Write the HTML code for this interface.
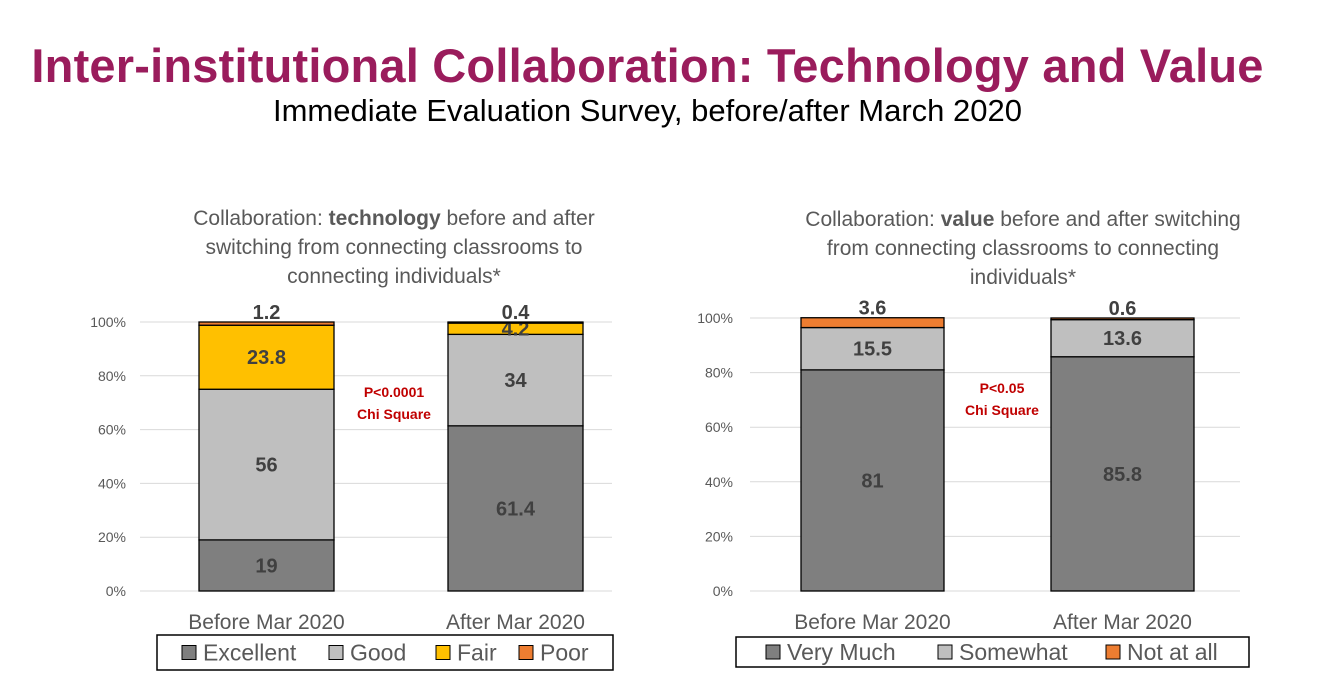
<!DOCTYPE html>
<html><head><meta charset="utf-8"><style>
body{margin:0;width:1327px;height:682px;background:#fff;overflow:hidden;font-family:"Liberation Sans",sans-serif;}
.t{position:absolute;left:0;width:1295px;text-align:center;white-space:nowrap;}
</style></head><body>
<div class="t" style="top:38px;font-size:47px;font-weight:bold;color:#9a1c5c;letter-spacing:0.2px;">Inter-institutional Collaboration: Technology and Value</div>
<div class="t" style="top:93px;font-size:31px;color:#000;">Immediate Evaluation Survey, before/after March 2020</div>
<svg id="svg" width="1327" height="682" style="position:absolute;left:0;top:0"></svg>
<script>
const cats=["Before Mar 2020","After Mar 2020"];
const techSeries=["Excellent","Good","Fair","Poor"];
const techExcellent=[19,61.4];
const techGood=[56,34];
const techFair=[23.8,4.2];
const techPoor=[1.2,0.4];
const valSeries=["Very Much","Somewhat","Not at all"];
const valVeryMuch=[81,85.8];
const valSomewhat=[15.5,13.6];
const valNotAtAll=[3.6,0.6];
const ticks=["0%","20%","40%","60%","80%","100%"];
const NS="http://www.w3.org/2000/svg";
const svg=document.getElementById('svg');
function mk(t,a,txt){const e=document.createElementNS(NS,t);for(const k in a)e.setAttribute(k,a[k]);if(txt!=null)e.textContent=txt;svg.appendChild(e);return e;}
function chart(cfg){
 const y=v=>cfg.y0-(cfg.y0-cfg.y100)*v/100;
 ticks.forEach((t,i)=>{const v=i*20;
  const g=mk('line',{x1:cfg.gx0,x2:cfg.gx1,y1:y(v),y2:y(v),stroke:'#d9d9d9','stroke-width':1});
  
  
  const l=mk('text',{x:cfg.lx,y:y(v)+5,'text-anchor':'end','font-size':14,fill:'#595959'},t);
  
  
 });
 cats.forEach((c,ci)=>{
  let acc=0;const x=cfg.bx[ci],w=cfg.bw;
  cfg.series.forEach((s,si)=>{
   const v=cfg.data[si][ci];const yt=y(acc+v),yb=y(acc);
   const r=mk('rect',{x:x,y:yt,width:w,height:yb-yt,fill:cfg.colors[si],stroke:'#000','stroke-width':1.3});
   
   
   const last=si==cfg.series.length-1;
   const ly=last?yt-3:(yt+yb)/2+7;
   const tl=mk('text',{x:x+w/2,y:ly,'text-anchor':'middle','font-size':20,'font-weight':'bold',fill:'#404040'},String(v));
   
   
   acc+=v;
  });
  const xl=mk('text',{x:x+w/2,y:cfg.y0+38,'text-anchor':'middle','font-size':21,fill:'#595959'},c);
  
  
 });
 cfg.title.forEach((ln,i)=>{
  const t=mk('text',{x:cfg.tx,y:cfg.ty+i*29,'text-anchor':'middle','font-size':21,fill:'#595959'});
  
  
  ln.forEach(p=>{const s=document.createElementNS(NS,'tspan');s.textContent=p[0];if(p[1])s.setAttribute('font-weight','bold');t.appendChild(s);});
 });
 cfg.ann.forEach((a,i)=>{const t=mk('text',{x:cfg.ax,y:cfg.ay+i*22,'text-anchor':'middle','font-size':14,'font-weight':'bold',fill:'#c00000'},a);
  
  });
 const lb=mk('rect',{x:cfg.lg[0],y:cfg.lg[1],width:cfg.lg[2],height:cfg.lg[3],fill:'#fff',stroke:'#000','stroke-width':1.5});
 
 
 cfg.series.forEach((s,si)=>{const lx=cfg.lgx[si],cy=cfg.lg[1]+cfg.lg[3]/2;
  const sw=mk('rect',{x:lx,y:cy-7,width:14,height:14,fill:cfg.colors[si],stroke:'#000','stroke-width':1});
  
  
  const lt=mk('text',{x:lx+21,y:cy+8,'font-size':23,fill:'#595959'},s);
  
  });
}
chart({y0:591,y100:322,gx0:140,gx1:612,lx:126,bx:[199,448],bw:135,
 series:techSeries,data:[techExcellent,techGood,techFair,techPoor],
 colors:['#7f7f7f','#bfbfbf','#ffc000','#ed7d31'],
 title:[[["Collaboration: "],["technology",1],[" before and after"]],[["switching from connecting classrooms to"]],[["connecting individuals*"]]],
 tx:394,ty:225,ann:["P<0.0001","Chi Square"],ax:394,ay:397,
 lg:[157,635,456,35],lgx:[182,329,436,519]});
chart({y0:591,y100:318,gx0:750,gx1:1240,lx:733,bx:[801,1051],bw:143,
 series:valSeries,data:[valVeryMuch,valSomewhat,valNotAtAll],
 colors:['#7f7f7f','#bfbfbf','#ed7d31'],
 title:[[["Collaboration: "],["value",1],[" before and after switching"]],[["from connecting classrooms to connecting"]],[["individuals*"]]],
 tx:1023,ty:226,ann:["P<0.05","Chi Square"],ax:1002,ay:393,
 lg:[736,637,513,30],lgx:[766,938,1106]});
</script>
</body></html>
